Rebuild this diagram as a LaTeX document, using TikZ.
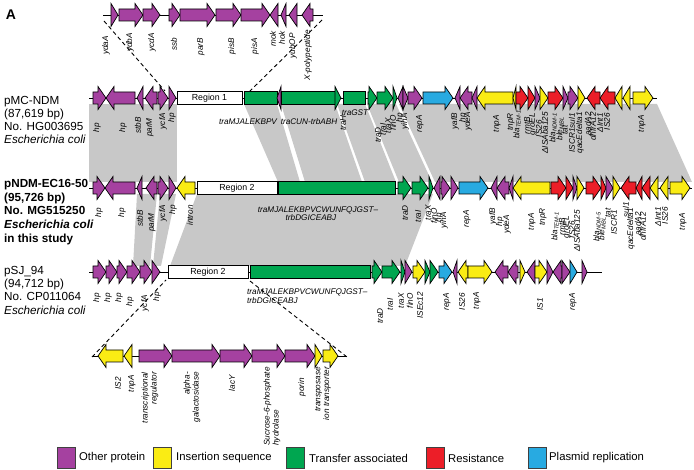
\documentclass[tikz,border=0pt]{standalone}
\usepackage{fontspec}
\setmainfont{Liberation Sans}
\definecolor{gpur}{RGB}{165,65,160}
\definecolor{gyel}{RGB}{250,236,20}
\definecolor{ggrn}{RGB}{0,166,80}
\definecolor{gred}{RGB}{236,30,40}
\definecolor{gblu}{RGB}{40,170,225}
\definecolor{ggry}{RGB}{200,200,200}
\newcommand\gBH{6}
\newcommand\gHH{11.5}
\newcommand\gHL{8}
\newcommand\gR[4]{\pgfmathsetmacro\gLen{min(\gHL,#2-#1)}%
 \filldraw[gene,fill=#4] (#1,#3-\gBH) -- ({#2-\gLen},#3-\gBH) -- ({#2-\gLen},#3-\gHH) -- (#2,#3) -- ({#2-\gLen},#3+\gHH) -- ({#2-\gLen},#3+\gBH) -- (#1,#3+\gBH) -- cycle;}
\newcommand\gL[4]{\pgfmathsetmacro\gLen{min(\gHL,#2-#1)}%
 \filldraw[gene,fill=#4] (#2,#3-\gBH) -- ({#1+\gLen},#3-\gBH) -- ({#1+\gLen},#3-\gHH) -- (#1,#3) -- ({#1+\gLen},#3+\gHH) -- ({#1+\gLen},#3+\gBH) -- (#2,#3+\gBH) -- cycle;}
\newcommand\gRect[4]{\filldraw[gene,fill=#4] (#1,#3-6.5) rectangle (#2,#3+6.5);}
\newcounter{lc}
\newcommand\rlab[3]{\stepcounter{lc}\node[rl] (r\arabic{lc}) at (#1,#2) {#3};}
\newcommand\hlab[3]{\stepcounter{lc}\node[glab] (h\arabic{lc}) at (#1,#2) {#3};}
\newcommand\nlab[3]{\stepcounter{lc}\node[nm] (n\arabic{lc}) at (#1,#2) {#3};}
\newcommand\nlabB[3]{\stepcounter{lc}\node[nm, font=\fontsize{11.7}{13}\selectfont\bfseries] (n\arabic{lc}) at (#1,#2) {#3};}
\tikzset{
 gene/.style={draw=black, line width=0.7pt, line join=miter},
 glab/.style={font=\fontsize{8.2}{9}\selectfont\itshape, inner sep=0pt},
 rl/.style={glab, rotate=90, anchor=east},
 rl2/.style={rotate=90, anchor=east, inner sep=0pt, font=\fontsize{8.2}{8.8}\selectfont\itshape},
 nm/.style={font=\fontsize{11.7}{13}\selectfont, inner sep=0pt, anchor=base west},
 regbox/.style={draw=black, line width=0.7pt, fill=white, minimum height=13, inner sep=0pt, font=\fontsize{8.8}{10}\selectfont},
 bb/.style={line width=0.6pt},
 link/.style={dashed, line width=0.9pt, dash pattern=on 4pt off 3pt},
 legbox/.style={draw=black!75, line width=0.8pt, minimum width=18, minimum height=21, inner sep=0pt},
 legtxt/.style={font=\fontsize{11.3}{13}\selectfont, inner sep=0pt, anchor=west},
}
\begin{document}
\begin{tikzpicture}[x=1pt,y=-1pt]
\useasboundingbox (0,0) rectangle (694,470);
% ---------- homology shading ----------
\fill[ggry] (89,104) -- (177,104) -- (177,182) -- (89,182) -- cycle;
\fill[ggry] (244,104) -- (277,104) -- (300,182) -- (278,182) -- cycle;
\fill[ggry] (281,104) -- (335,104) -- (362,182) -- (305,182) -- cycle;
\fill[ggry] (337,104) -- (365,104) -- (396,182) -- (365,182) -- cycle;
\fill[ggry] (367,104) -- (396,104) -- (432,182) -- (399,182) -- cycle;
\fill[ggry] (399,104) -- (657,104) -- (692,182) -- (435,182) -- cycle;
\fill[ggry] (137,194) -- (157,194) -- (150,266) -- (133,266) -- cycle;
\fill[ggry] (160,194) -- (176,194) -- (161,266) -- (153,266) -- cycle;
\fill[ggry] (197,194) -- (433,194) -- (405,266) -- (170,266) -- cycle;
% ---------- panel letter ----------
\node[font=\fontsize{14}{16}\selectfont\bfseries, inner sep=0pt] (panelA) at (11,15) {A};
% ---------- row 1 (inset top) ----------
\draw[bb] (103,15) -- (323,15);
\gR{111}{118}{15}{gpur}
\gR{119}{143}{15}{gpur}
\gR{143}{160}{15}{gpur}
\gR{169}{180}{15}{gpur}
\gR{180}{215}{15}{gpur}
\gR{216}{241}{15}{gpur}
\gR{241}{270}{15}{gpur}
\gL{270}{278}{15}{gpur}
\gL{281}{286}{15}{gpur}
\gL{289}{297}{15}{gpur}
\gL{302}{313}{15}{gpur}
\rlab{106}{36}{ydaA}
\rlab{130}{33}{ydbA}
\rlab{152}{33}{ycdA}
\rlab{174}{38}{ssb}
\rlab{201}{38}{parB}
\rlab{232}{38}{pisB}
\rlab{255}{38}{pisA}
\rlab{273}{31}{mok}
\rlab{282}{31}{hok}
\rlab{293}{33}{yubOP}
\rlab{308}{30}{X-polypeptide}
% ---------- row 2 pMC-NDM ----------
\draw[bb] (89,98) -- (657,98);
\gR{93}{106}{98}{gpur}
\gL{106}{135}{98}{gpur}
\gL{137}{143}{98}{gpur}
\gL{145}{157}{98}{gpur}
\gR{158}{168}{98}{gpur}
\gR{169}{176}{98}{gpur}
\node[regbox, minimum width=65] (reg1) at (209.5,98) {Region 1};
\gRect{244}{277}{98}{ggrn}
\gL{277}{281}{98}{gpur}
\gRect{281}{335}{98}{ggrn}
\gR{335}{341}{98}{ggrn}
\gRect{343}{365}{98}{ggrn}
\gR{368}{377}{98}{ggrn}
\gR{377}{393}{98}{ggrn}
\gR{393}{397}{98}{ggrn}
\gL{398}{403}{98}{gpur}
\gR{403}{408}{98}{gpur}
\gR{408}{422}{98}{gpur}
\gR{423}{453}{98}{gblu}
\gL{455}{460}{98}{gpur}
\gL{460}{472}{98}{gpur}
\gL{472}{477}{98}{gpur}
\gL{477}{513}{98}{gyel}
\gL{513}{516}{98}{gyel}
\gR{516}{528}{98}{gred}
\gR{528}{535}{98}{gred}
\gR{535}{540}{98}{gpur}
\gR{540}{548}{98}{gyel}
\gR{548}{563}{98}{gred}
\gR{563}{568}{98}{gpur}
\gR{568}{578}{98}{gpur}
\gR{578}{585}{98}{gyel}
\gL{587}{600}{98}{gred}
\gL{600}{615}{98}{gred}
\gL{615}{622}{98}{gyel}
\gL{623}{630}{98}{gyel}
\gR{633}{653}{98}{gyel}
\rlab{97}{123}{hp}
\rlab{123}{123}{hp}
\rlab{138}{117}{stbB}
\rlab{150}{118}{parM}
\rlab{163}{113}{ycfA}
\rlab{172}{113}{hp}
\hlab{248}{122}{traMJALEKBPV}
\hlab{309}{122}{traCUN-trbABH}
\rlab{343}{115}{traH}
\hlab{355}{113}{traGST}
\rlab{378}{127}{traD}
\rlab{383}{123}{traI}
\rlab{388}{118}{traX}
\rlab{393}{115}{finO}
\rlab{400}{113}{hp}
\rlab{405}{113}{yihA}
\rlab{420}{115}{repA}
\rlab{455}{113}{yafB}
\rlab{463}{113}{hp}
\rlab{468}{112}{ydeA}
\rlab{497}{115}{tnpA}
\rlab{511}{113}{tnpR}
\rlab{517}{110}{bla\textsubscript{TEM-1}}
\rlab{527}{117}{rmtB}
\rlab{533}{113}{groEL}
\rlab{539}{120}{IS26}
\rlab{545}{112}{ΔISAba125}
\rlab{553}{113}{bla\textsubscript{NDM-1}}
\rlab{560}{117}{ble\textsubscript{MBL}}
\rlab{565}{125}{tat}
\rlab{572}{113}{ISCR1sul1}
\rlab{580}{112}{qacEdelta1}
\rlab{588}{112}{aadA2}
\rlab{593}{112}{dhfrA12}
\rlab{600}{113}{ΔInt1}
\rlab{607}{113}{IS26}
\rlab{642}{115}{tnpA}
\nlab{4}{105}{pMC-NDM}
\nlab{4}{118}{(87,619 bp)}
\nlab{4}{131}{No. HG003695}
\nlab{4}{144}{\itshape Escherichia coli}
% ---------- row 3 pNDM-EC16-50 ----------
\draw[bb] (89,188) -- (692,188);
\gR{93}{105}{188}{gpur}
\gL{105}{135}{188}{gpur}
\gL{137}{142}{188}{gpur}
\gL{146}{157}{188}{gpur}
\gR{158}{168}{188}{gpur}
\gR{169}{176}{188}{gpur}
\gL{177}{195}{188}{gyel}
\node[regbox, minimum width=80] (reg2) at (237,188) {Region 2};
\gRect{278}{395}{188}{ggrn}
\gR{398}{411}{188}{ggrn}
\gR{412}{428}{188}{ggrn}
\gR{429}{433}{188}{ggrn}
\gL{434}{440}{188}{gpur}
\gR{441}{450}{188}{gpur}
\gR{451}{458}{188}{gpur}
\gR{459}{488}{188}{gblu}
\gL{491}{497}{188}{gpur}
\gL{497}{509}{188}{gpur}
\gL{509}{513}{188}{gpur}
\gL{513}{550}{188}{gyel}
\gR{551}{566}{188}{gred}
\gR{566}{573}{188}{gred}
\gR{573}{577}{188}{gpur}
\gR{577}{584}{188}{gyel}
\gR{586}{601}{188}{gred}
\gR{601}{606}{188}{gred}
\gR{606}{613}{188}{gpur}
\gR{613}{620}{188}{gyel}
\gL{621}{636}{188}{gred}
\gL{636}{642}{188}{gred}
\gL{642}{650}{188}{gred}
\gL{650}{658}{188}{gyel}
\gL{660}{668}{188}{gyel}
\gR{670}{690}{188}{gyel}
\rlab{99}{208}{hp}
\rlab{122}{208}{hp}
\rlab{140}{210}{stbB}
\rlab{152}{213}{parM}
\rlab{163}{205}{ycfA}
\rlab{173}{205}{hp}
\rlab{190}{205}{intron}
\hlab{318}{210}{traMJALEKBPVCWUNFQJGST–}
\hlab{311}{218}{trbDGICEABJ}
\rlab{405}{205}{traD}
\rlab{418}{210}{traI}
\rlab{428}{205}{traX}
\rlab{434}{208}{finO}
\rlab{439}{213}{hp}
\rlab{444}{212}{yihA}
\rlab{467}{210}{repA}
\rlab{493}{208}{yafB}
\rlab{500}{217}{hp}
\rlab{507}{215}{ydeA}
\rlab{532}{213}{tnpA}
\rlab{543}{208}{tnpR}
\rlab{555}{212}{bla\textsubscript{TEM-1}}
\rlab{562}{218}{rmtB}
\rlab{567}{216}{groEL}
\rlab{572}{221}{IS26}
\rlab{577}{210}{ΔISAba125}
\rlab{597}{212}{bla\textsubscript{NDM-5}}
\rlab{602}{217}{ble\textsubscript{MBL}}
\rlab{608}{208}{tat}
\rlab{614}{210}{ISCR1}
\rlab{626}{202}{sul1}
\rlab{631}{208}{qacEdelta1}
\rlab{638}{212}{aadA2}
\rlab{643}{212}{dhfrA12}
\rlab{658}{207}{ΔInt1}
\rlab{665}{207}{IS26}
\rlab{683}{213}{tnpA}
\nlabB{4}{188}{pNDM-EC16-50}
\nlabB{4}{202}{(95,726 bp)}
\nlabB{4}{215}{No. MG515250}
\nlabB{4}{229}{\itshape Escherichia coli}
\nlabB{4}{243}{in this study}
% ---------- row 4 pSJ_94 ----------
\draw[bb] (89,272) -- (602,272);
\gR{93}{106}{272}{gpur}
\gR{106}{117}{272}{gpur}
\gR{117}{127}{272}{gpur}
\gR{127}{140}{272}{gpur}
\gR{140}{152}{272}{gpur}
\gR{152}{160}{272}{gpur}
\node[regbox, minimum width=80] (reg3) at (208,272) {Region 2};
\gRect{250}{370}{272}{ggrn}
\gR{372}{382}{272}{ggrn}
\gR{382}{400}{272}{ggrn}
\gR{401}{405}{272}{ggrn}
\gR{405}{412}{272}{gpur}
\gR{413}{425}{272}{gyel}
\gR{425}{430}{272}{ggrn}
\gR{430}{438}{272}{ggrn}
\gR{439}{452}{272}{gblu}
\gL{453}{457}{272}{gpur}
\gL{458}{468}{272}{gyel}
\gR{468}{492}{272}{gyel}
\gL{495}{508}{272}{gpur}
\gL{508}{518}{272}{gpur}
\gR{520}{525}{272}{gyel}
\gL{527}{535}{272}{gpur}
\gR{535}{547}{272}{gyel}
\gR{547}{553}{272}{gpur}
\gL{553}{562}{272}{gpur}
\gR{562}{570}{272}{gpur}
\gR{570}{577}{272}{gblu}
\gR{582}{587}{272}{gpur}
\rlab{97}{293}{hp}
\rlab{108}{293}{hp}
\rlab{119}{293}{hp}
\rlab{130}{297}{hp}
\rlab{145}{295}{ycfA}
\rlab{157}{292}{hp}
\stepcounter{lc}\node[glab, anchor=west] (w1) at (247,292) {traMJALEKBPVCWUNFQJGST–};
\stepcounter{lc}\node[glab, anchor=west] (w2) at (247,300.5) {trbDGICEABJ};
\rlab{380}{308}{traD}
\rlab{390}{298}{traI}
\rlab{401}{293}{traX}
\rlab{410}{293}{finO}
\rlab{420}{292}{ISEc12}
\rlab{447}{293}{repA}
\rlab{462}{293}{IS26}
\rlab{477}{292}{tnpA}
\rlab{540}{298}{IS1}
\rlab{573}{293}{repA}
\nlab{4}{275}{pSJ\_94}
\nlab{4}{288}{(94,712 bp)}
\nlab{4}{301}{No. CP011064}
\nlab{4}{315}{\itshape Escherichia coli}
% ---------- row 5 (inset bottom) ----------
\draw[bb] (92,356) -- (347,356);
\gL{98}{123}{356}{gyel}
\gL{124}{132}{356}{gyel}
\gR{139}{172}{356}{gpur}
\gR{172}{220}{356}{gpur}
\gR{220}{252}{356}{gpur}
\gR{252}{285}{356}{gpur}
\gR{285}{315}{356}{gpur}
\gR{315}{322}{356}{gyel}
\gR{323}{338}{356}{gyel}
\node[rl2] (s1) at (118,377) {IS2};
\node[rl2] (s2) at (132,375) {tnpA};
\node[rl2, align=right] (s3) at (150,372) {transcriptional\\regulator};
\node[rl2, align=right] (s4) at (192,372) {alpha-\\galactosidase};
\node[rl2] (s5) at (232,375) {lacY};
\node[rl2, align=left] (s6) at (272,367) {Sucrose-6-phosphate\\hydrolase};
\node[rl2] (s7) at (302,378) {porin};
\node[rl2, align=right] (s8) at (323,367) {transposase\\ion transporter};
% ---------- dashed zoom links ----------
\coordinate (t1) at (104,21);
\coordinate (t2) at (165,91);
\coordinate (t3) at (322,20);
\coordinate (t4) at (248,93);
\coordinate (b1) at (92,357);
\coordinate (b2) at (166,280);
\coordinate (b3) at (250,281);
\coordinate (b4) at (347,357);
\draw[link] (t1) -- (t2);
\draw[link] (t3) -- (t4);
\draw[link] (b1) -- (b2);
\draw[link] (b3) -- (b4);
% ---------- legend ----------
\node[legbox, fill=gpur] (k1) at (66,458) {};
\node[legtxt] (l1) at (79,458) {Other protein};
\node[legbox, fill=gyel] (k2) at (162,458) {};
\node[legtxt] (l2) at (176,458) {Insertion sequence};
\node[legbox, fill=ggrn] (k3) at (295,458) {};
\node[legtxt] (l3) at (309,458) {Transfer associated};
\node[legbox, fill=gred] (k4) at (435,458) {};
\node[legtxt] (l4) at (448,458) {Resistance};
\node[legbox, fill=gblu] (k5) at (537,458) {};
\node[legtxt] (l5) at (549,458) {Plasmid replication};
\end{tikzpicture}
\end{document}
